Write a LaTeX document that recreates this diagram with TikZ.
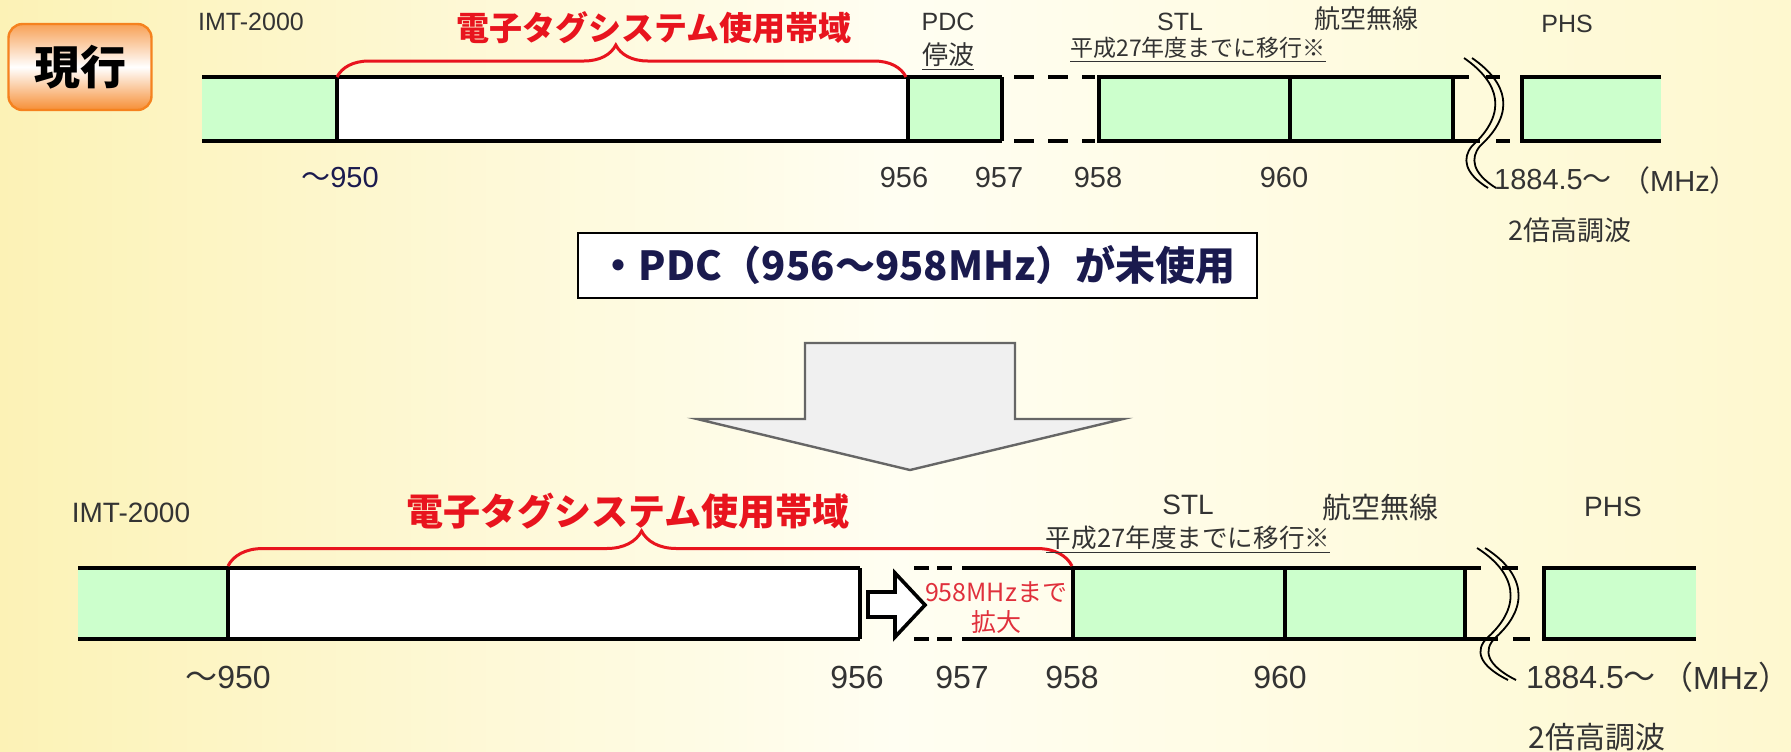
\documentclass[tikz,border=0pt]{standalone}
\usepackage{fontspec}
\setmainfont{Liberation Sans}
\newfontfamily\jp{Noto Sans CJK JP}
\usetikzlibrary{decorations.pathreplacing}

\definecolor{bandgreen}{HTML}{CCFFCC}
\definecolor{tagred}{HTML}{E8141E}
\definecolor{exred}{HTML}{E0303C}
\definecolor{navy}{HTML}{1A1A4E}
\definecolor{labelgray}{HTML}{333333}
\definecolor{arrowfill}{HTML}{F0F0F0}
\definecolor{arrowline}{HTML}{666666}
\definecolor{genkoOr}{HTML}{F5821F}
\definecolor{bgL}{HTML}{FCF2B6}
\definecolor{bgM}{HTML}{FFFEF2}
\definecolor{bgR}{HTML}{FEF8CF}

\begin{document}
\begin{tikzpicture}[x=0.5pt,y=-0.5pt,
    band/.style={line width=2pt},
    gapA/.style={line width=2pt,dash pattern=on 10pt off 7pt},
    gapB/.style={line width=2pt,dash pattern=on 7.5pt off 4pt},
    brk/.style={line width=0.9pt},
    lbl/.style={font=\fontsize{#1}{#1}\selectfont,text=labelgray,inner sep=0pt},
    lbl/.default=12.5,
    jlbl/.style={font=\jp\fontsize{#1}{#1}\selectfont,text=labelgray,inner sep=0pt},
    jlbl/.default=13,
    tagtitle/.style={font=\jp\bfseries\fontsize{#1}{#1}\selectfont,text=tagred,inner sep=0pt},
    tagbrace/.style={draw=tagred,line width=1.5pt,decorate,decoration={brace,amplitude=#1,aspect=0.49}},
    genko/.style={rounded corners=7pt,draw=genkoOr,line width=1.2pt,top color=genkoOr!75,bottom color=genkoOr!90,middle color=white,minimum width=71.5pt,minimum height=43pt,font=\jp\bfseries\fontsize{23}{23}\selectfont},
    note/.style={draw,fill=white,line width=1pt,minimum width=339.5pt,minimum height=32.5pt,font=\jp\bfseries\fontsize{20}{20}\selectfont,text=navy}]

% background
\shade[left color=bgL,right color=bgR,middle color=bgM] (0,0) rectangle (1791,751);
\useasboundingbox (0,0) rectangle (1791,751);

% current allocation
\fill[bandgreen] (202,77) rectangle (337,141);
\fill[white] (337,77) rectangle (908,141);
\fill[bandgreen] (908,77) rectangle (1002,141);
\fill[bandgreen] (1099,77) rectangle (1453,141);
\fill[bandgreen] (1522,77) rectangle (1661,141);
\draw[band] (202,77) -- (1002,77) (202,141) -- (1002,141);
\draw[band] (337,77) -- (337,141) (908,77) -- (908,141) (1002,77) -- (1002,141);
\draw[gapA] (1014,77) -- (1095,77) (1014,141) -- (1095,141);
\draw[band] (1099,77) rectangle (1453,141) (1290,77) -- (1290,141);
\draw[band] (1453,77) -- (1469,77) (1486,77) -- (1500,77) (1453,141) -- (1480,141) (1496,141) -- (1510,141);
\draw[band] (1661,77) -- (1522,77) -- (1522,141) -- (1661,141);
\foreach \s in {0,4}
  \draw[brk,xshift=\s pt] (1464,58) .. controls (1500,83) and (1508,113) .. (1472,146) .. controls (1462,158) and (1464,173) .. (1488,188);

\node[genko] (genko) at (80,67) {現行};
\node[lbl] (imtA) at (251,22) {IMT-2000};
\node[tagtitle=16.5] (tagA) at (654,28) {電子タグシステム使用帯域};
\coordinate (tagAl) at (337,77);
\coordinate (tagAr) at (906,77);
\draw[tagbrace=16pt] (tagAl) -- (tagAr);
\node[lbl] (pdcA) at (948,22) {PDC};
\node[jlbl] (stopA) at (948,57) {\underline{停波}};
\node[lbl] (stlA) at (1180,22) {STL};
\node[jlbl=11.5] (moveA) at (1198,50) {\underline{平成27年度までに移行※}};
\node[jlbl] (aeroA) at (1366,19) {航空無線};
\node[lbl] (phsA) at (1567,24) {PHS};

\node[lbl=14.5,text=navy] (f950A) at (340,178) {{\jp ～}950};
\node[lbl=14.5] (f956A) at (904,178) {956};
\node[lbl=14.5] (f957A) at (999,178) {957};
\node[lbl=14.5] (f958A) at (1098,178) {958};
\node[lbl=14.5] (f960A) at (1284,178) {960};
\node[lbl=14.5] (phsfA) at (1553,180) {1884.5{\jp ～}};
\node[lbl=14.5] (mhzA) at (1680,180) {{\jp （}MHz{\jp ）}};
\node[jlbl=13.5] (harmA) at (1570,230) {2倍高調波};

% change
\node[note] (note) at (917,265) {・PDC（956～958MHz）が未使用};
\draw[fill=arrowfill,draw=arrowline,line width=1.2pt] (805,343) -- (1015,343) -- (1015,419) -- (1123,419) -- (910,470) -- (697,419) -- (805,419) -- cycle;

% new allocation
\fill[bandgreen] (78,568) rectangle (228,639);
\fill[white] (228,568) rectangle (860,639);
\fill[bandgreen] (1073,568) rectangle (1465,639);
\fill[bandgreen] (1544,568) rectangle (1696,639);
\draw[band] (78,568) -- (860,568) (78,639) -- (860,639);
\draw[band] (228,568) -- (228,639) (860,568) -- (860,639);
\draw[gapB] (914,568) -- (956,568) (914,639) -- (956,639);
\draw[band] (962,568) -- (1073,568) (962,639) -- (1073,639);
\draw[band] (1073,568) rectangle (1465,639) (1285,568) -- (1285,639);
\draw[band] (1465,568) -- (1481,568) (1502,568) -- (1518,568) (1465,639) -- (1498,639) (1513,639) -- (1530,639);
\draw[band] (1696,568) -- (1544,568) -- (1544,639) -- (1696,639);
\foreach \s in {0,4}
  \draw[brk,xshift=\s pt] (1477,548) .. controls (1515,572) and (1524,605) .. (1487,638) .. controls (1475,650) and (1478,665) .. (1508,680);
\draw[fill=white,line width=1.8pt] (868,592) -- (895,592) -- (895,573) -- (925,605) -- (895,637) -- (895,617) -- (868,617) -- cycle;
\node[font=\jp\fontsize{12.5}{15}\selectfont,text=exred,inner sep=0pt,align=center] (extend) at (996,608) {958MHzまで\\拡大};

\node[lbl=14] (imtB) at (131,513) {IMT-2000};
\node[tagtitle=18.5] (tagB) at (628,511) {電子タグシステム使用帯域};
\coordinate (tagBl) at (228,566);
\coordinate (tagBr) at (1072,566);
\draw[tagbrace=17.5pt] (tagBl) -- (tagBr);
\node[lbl=14] (stlB) at (1188,505) {STL};
\node[jlbl=12.8] (moveB) at (1188,540) {\underline{平成27年度までに移行※}};
\node[jlbl=14.5] (aeroB) at (1380,507) {航空無線};
\node[lbl=14] (phsB) at (1613,507) {PHS};

\node[lbl=16] (f950B) at (228,677) {{\jp ～}950};
\node[lbl=16] (f956B) at (857,677) {956};
\node[lbl=16] (f957B) at (962,677) {957};
\node[lbl=16] (f958B) at (1072,677) {958};
\node[lbl=16] (f960B) at (1280,677) {960};
\node[lbl=16] (phsfB) at (1591,677) {1884.5{\jp ～}};
\node[lbl=16] (mhzB) at (1726,677) {{\jp （}MHz{\jp ）}};
\node[jlbl=15] (harmB) at (1597,737) {2倍高調波};
\end{tikzpicture}
\end{document}
